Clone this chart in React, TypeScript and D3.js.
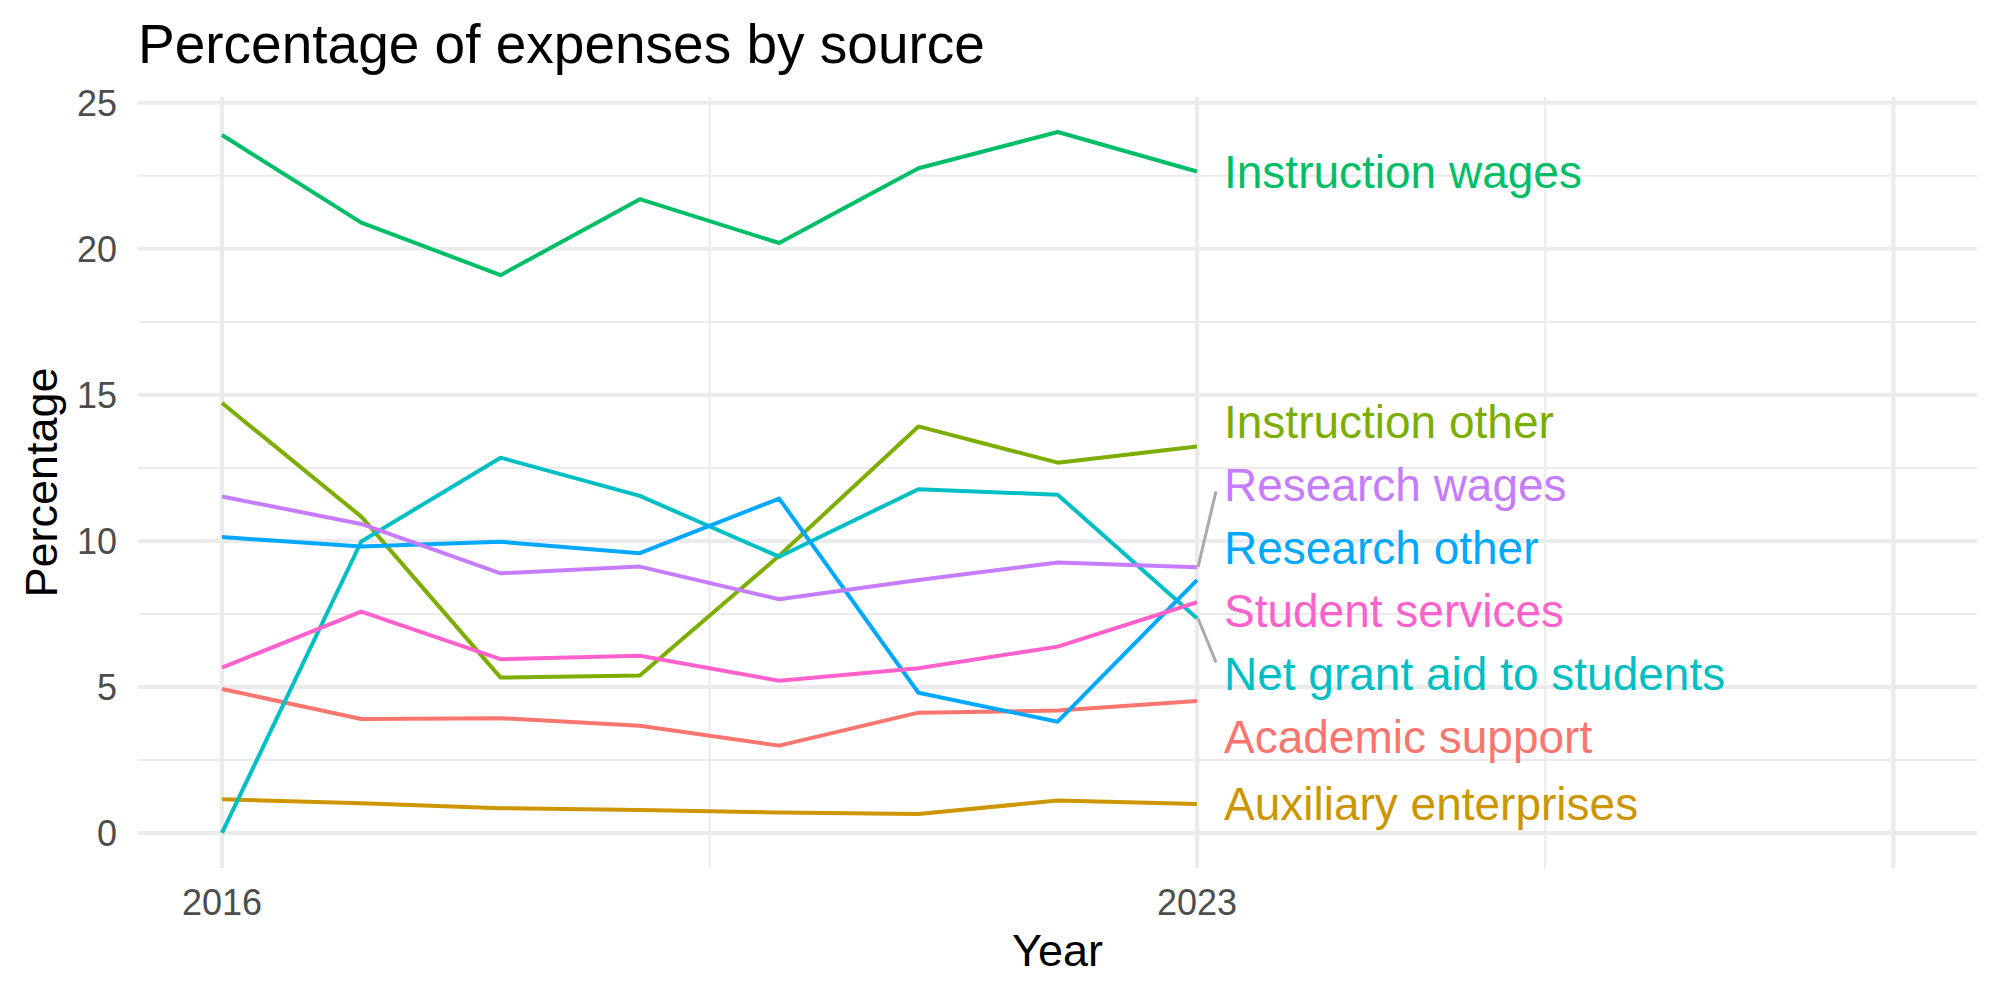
import * as d3 from 'd3';

const years = [2016, 2017, 2018, 2019, 2020, 2021, 2022, 2023];

// one array per expense source, percent of total expenses
const academicSupport = [4.93, 3.9, 3.93, 3.67, 2.99, 4.12, 4.19, 4.52];
const auxiliaryEnterprises = [1.15, 1.02, 0.85, 0.79, 0.7, 0.65, 1.11, 0.99];
const instructionOther = [14.72, 10.83, 5.32, 5.39, 9.49, 13.92, 12.68, 13.23];
const instructionWages = [23.9, 20.9, 19.1, 21.7, 20.2, 22.76, 24.0, 22.65];
const netGrantAid = [0, 9.98, 12.85, 11.54, 9.46, 11.77, 11.58, 7.35];
const researchOther = [10.13, 9.81, 9.97, 9.58, 11.45, 4.8, 3.81, 8.66];
const researchWages = [11.52, 10.58, 8.89, 9.12, 8.0, 8.66, 9.26, 9.1];
const studentServices = [5.66, 7.58, 5.95, 6.07, 5.21, 5.64, 6.38, 7.9];

const sourceNames = [
  'Academic support',
  'Auxiliary enterprises',
  'Instruction other',
  'Instruction wages',
  'Net grant aid to students',
  'Research other',
  'Research wages',
  'Student services',
];
const sourceValues = [
  academicSupport,
  auxiliaryEnterprises,
  instructionOther,
  instructionWages,
  netGrantAid,
  researchOther,
  researchWages,
  studentServices,
];
const palette = ['#F8766D', '#CD9600', '#7CAE00', '#00BE67', '#00BFC4', '#00A9FF', '#C77CFF', '#FF61CC'];

const yTicks = [0, 5, 10, 15, 20, 25];
const yMinor = [2.5, 7.5, 12.5, 17.5, 22.5];
const xMajor = [2016, 2023, 2028];
const xMinor = [2019.5, 2025.5];
const xLabels = ['2016', '2023', ''];

const W = 2000;
const H = 1000;
const left = 138;
const right = 1977;
const top = 97;
const bottom = 868;
const font = '"Liberation Sans", Arial, Helvetica, sans-serif';
const grid = '#EBEBEB';

// nudge end labels apart vertically; a cluster sits between the mean and the
// midpoint of the line ends it covers
function spreadLabels(ys: number[], gap: number) {
  const order = ys.map((y, i) => i).sort((a, b) => ys[a] - ys[b]);
  let clusters = order.map((i) => ({ idx: [i], center: ys[i] }));
  let merged = true;
  while (merged) {
    merged = false;
    for (let k = 0; k < clusters.length - 1; k++) {
      const a = clusters[k];
      const b = clusters[k + 1];
      const aBottom = a.center + ((a.idx.length - 1) * gap) / 2;
      const bTop = b.center - ((b.idx.length - 1) * gap) / 2;
      if (bTop - aBottom < gap) {
        const idx = a.idx.concat(b.idx);
        const vals = idx.map((i) => ys[i]);
        const mean = d3.mean(vals) as number;
        const mid = ((d3.min(vals) as number) + (d3.max(vals) as number)) / 2;
        clusters = [...clusters.slice(0, k), { idx, center: (mean + mid) / 2 }, ...clusters.slice(k + 2)];
        merged = true;
        break;
      }
    }
  }
  const out: number[] = new Array(ys.length);
  clusters.forEach((c) => {
    const start = c.center - ((c.idx.length - 1) * gap) / 2;
    c.idx.forEach((i, j) => (out[i] = start + j * gap));
  });
  return out;
}

export default function App() {
  const x = d3.scaleLinear().domain([2015.397, 2028.6]).range([left, right]);
  const y = d3.scaleLinear().domain([-1.2, 25.2]).range([bottom, top]);

  const line = d3
    .line<number>()
    .x((d, i) => x(years[i]))
    .y((d) => y(d));

  const lastYear = years[years.length - 1];
  const endX = x(lastYear);
  const endYs = sourceValues.map((v) => y(v[v.length - 1]));
  const labelYs = spreadLabels(endYs, 63);
  const textX = endX + 27;

  const segments = endYs.map((py, i) => {
    const ly = labelYs[i];
    const bx = textX - 8;
    const by = Math.max(ly - 12, Math.min(ly + 6, py));
    const dist = Math.hypot(bx - endX, by - py);
    return dist > 45 ? { x1: endX + 1, y1: py, x2: bx, y2: by } : null;
  });

  return (
    <svg
      width={W}
      height={H}
      style={{ position: 'absolute', left: 0, top: 0, background: '#fff' }}
      fontFamily={font}
    >
      <rect width={W} height={H} fill='#fff' />
      {yMinor.map((t) => (
        <line key={'ym' + t} x1={left} x2={right} y1={y(t)} y2={y(t)} stroke={grid} strokeWidth={2} />
      ))}
      {xMinor.map((t) => (
        <line key={'xm' + t} x1={x(t)} x2={x(t)} y1={top} y2={bottom} stroke={grid} strokeWidth={2} />
      ))}
      {yTicks.map((t) => (
        <line key={'y' + t} x1={left} x2={right} y1={y(t)} y2={y(t)} stroke={grid} strokeWidth={4} />
      ))}
      {xMajor.map((t) => (
        <line key={'x' + t} x1={x(t)} x2={x(t)} y1={top} y2={bottom} stroke={grid} strokeWidth={4} />
      ))}

      {yTicks.map((t) => (
        <text key={'yl' + t} x={left - 21} y={y(t)} dy='0.36em' textAnchor='end' fontSize={36} fill='#4D4D4D'>
          {t}
        </text>
      ))}
      {xMajor.map((t, i) => (
        <text key={'xl' + t} x={x(t)} y={915} textAnchor='middle' fontSize={36} fill='#4D4D4D'>
          {xLabels[i]}
        </text>
      ))}

      {sourceValues.map((v, i) => (
        <path
          key={sourceNames[i]}
          d={line(v) as string}
          fill='none'
          stroke={palette[i]}
          strokeWidth={4}
          strokeLinejoin='round'
          strokeLinecap='butt'
        />
      ))}

      {segments.map((s, i) =>
        s ? (
          <line key={'seg' + i} x1={s.x1} y1={s.y1} x2={s.x2} y2={s.y2} stroke='#A9A9A9' strokeWidth={3} />
        ) : null
      )}
      {sourceNames.map((name, i) => (
        <text key={'lab' + name} x={textX} y={labelYs[i]} dy='0.35em' fontSize={46} fill={palette[i]}>
          {name}
        </text>
      ))}

      <text x={left} y={63} fontSize={55} fill='#000'>
        Percentage of expenses by source
      </text>
      <text x={(left + right) / 2} y={966} textAnchor='middle' fontSize={45} fill='#000'>
        Year
      </text>
      <text
        transform={`translate(57, ${(top + bottom) / 2}) rotate(-90)`}
        textAnchor='middle'
        fontSize={45}
        fill='#000'
      >
        Percentage
      </text>
    </svg>
  );
}
